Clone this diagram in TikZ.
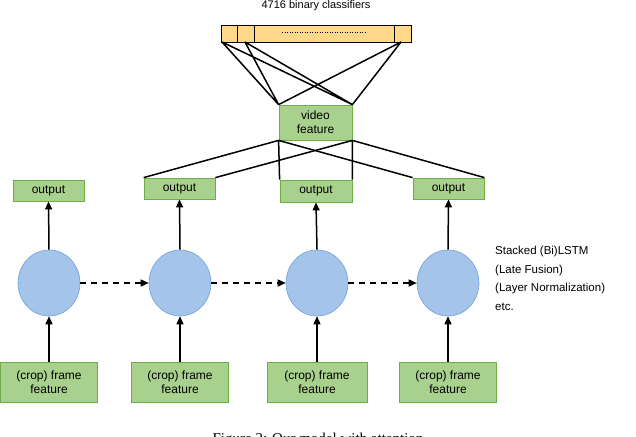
\documentclass[tikz,border=0pt]{standalone}
\usepackage{fontspec}
\setmainfont{Liberation Sans}
\newfontfamily\capfont{Liberation Serif}
\usetikzlibrary{arrows.meta,shapes.geometric}
\definecolor{gfill}{HTML}{A9D18E}
\definecolor{gdraw}{HTML}{70AD47}
\definecolor{bfill}{HTML}{A4C4EA}
\definecolor{bdraw}{HTML}{6FA0DC}
\definecolor{ofill}{HTML}{FFD88A}
\begin{document}
\begin{tikzpicture}[x=1pt,y=-1pt,
  gbox/.style={draw=gdraw,fill=gfill,line width=0.8pt,inner sep=0,font=\fontsize{12}{14}\selectfont,align=center},
  cell/.style={draw=bdraw,fill=bfill,ellipse,minimum width=62pt,minimum height=66pt,inner sep=0,line width=0.6pt},
  ln/.style={line width=1.5pt},
  arr/.style={line width=1.5pt,-{Triangle[length=8pt,width=7pt]}},
  darr/.style={arr,dash pattern=on 6pt off 5pt}]
\useasboundingbox (0,0) rectangle (636,436);
\node[font=\fontsize{11}{13}\selectfont] (title) at (316,6) {4716 binary classifiers};
\node[draw,fill=ofill,line width=0.7pt,minimum width=190pt,minimum height=17pt,inner sep=0] (bar) at (316,33.5) {};
\draw[line width=0.7pt] (237,25) -- (237,42) (254,25) -- (254,42) (394,25) -- (394,42);
\draw[dotted,line width=0.5pt] (282,32) -- (367,32);
\coordinate (b1) at (222,42); \coordinate (b2) at (245,42); \coordinate (b3) at (401,42);
\node[gbox,minimum width=73pt,minimum height=35pt] (vf) at (315.5,122.5) {video\\feature};
\draw[ln] (b1) -- (vf.north west) (b1) -- (vf.north east) (b2) -- (vf.north west) (b2) -- (vf.north east) (b3) -- (vf.north west) (b3) -- (vf.north east);
\node[gbox,minimum width=71pt,minimum height=21pt] (o1) at (48.5,190.5) {output};
\node[gbox,minimum width=71pt,minimum height=21pt] (o2) at (179.5,188.5) {output};
\node[gbox,minimum width=72pt,minimum height=22pt] (o3) at (316,191) {output};
\node[gbox,minimum width=71pt,minimum height=21pt] (o4) at (448.5,188.5) {output};
\draw[ln] (vf.south west) -- (o2.north west) (vf.south west) -- (o4.north west) (vf.south west) -- (o3.north west);
\draw[ln] (vf.south east) -- (o2.north east) (vf.south east) -- (o4.north east) (vf.south east) -- (o3.north east);
\foreach \i/\x in {1/49,2/180,3/317,4/448}{
  \node[cell] (c\i) at (\x,283) {};
}
\node[gbox,minimum width=97pt,minimum height=40pt] (f1) at (49,382) {(crop) frame\\feature};
\node[gbox,minimum width=97pt,minimum height=40pt] (f2) at (180,382) {(crop) frame\\feature};
\node[gbox,minimum width=100pt,minimum height=40pt] (f3) at (317,382) {(crop) frame\\feature};
\node[gbox,minimum width=97pt,minimum height=40pt] (f4) at (448,382) {(crop) frame\\feature};
\foreach \i in {1,2,3,4}{
  \draw[arr] (f\i.north) -- (c\i.south);
  \draw[arr] (c\i.north) -- (o\i.south);
}
\draw[darr] (c1.east) -- (c2.west);
\draw[darr] (c2.east) -- (c3.west);
\draw[darr] (c3.east) -- (c4.west);
\node[anchor=north west,align=left,font=\fontsize{11.5}{18.5}\selectfont,inner sep=0] (txt) at (495,246) {Stacked (Bi)LSTM\\(Late Fusion)\\(Layer Normalization)\\etc.};
\node[font=\capfont\fontsize{15}{18}\selectfont,anchor=base] (cap) at (318,443) {Figure 2: Our model with attention};
\end{tikzpicture}
\end{document}
